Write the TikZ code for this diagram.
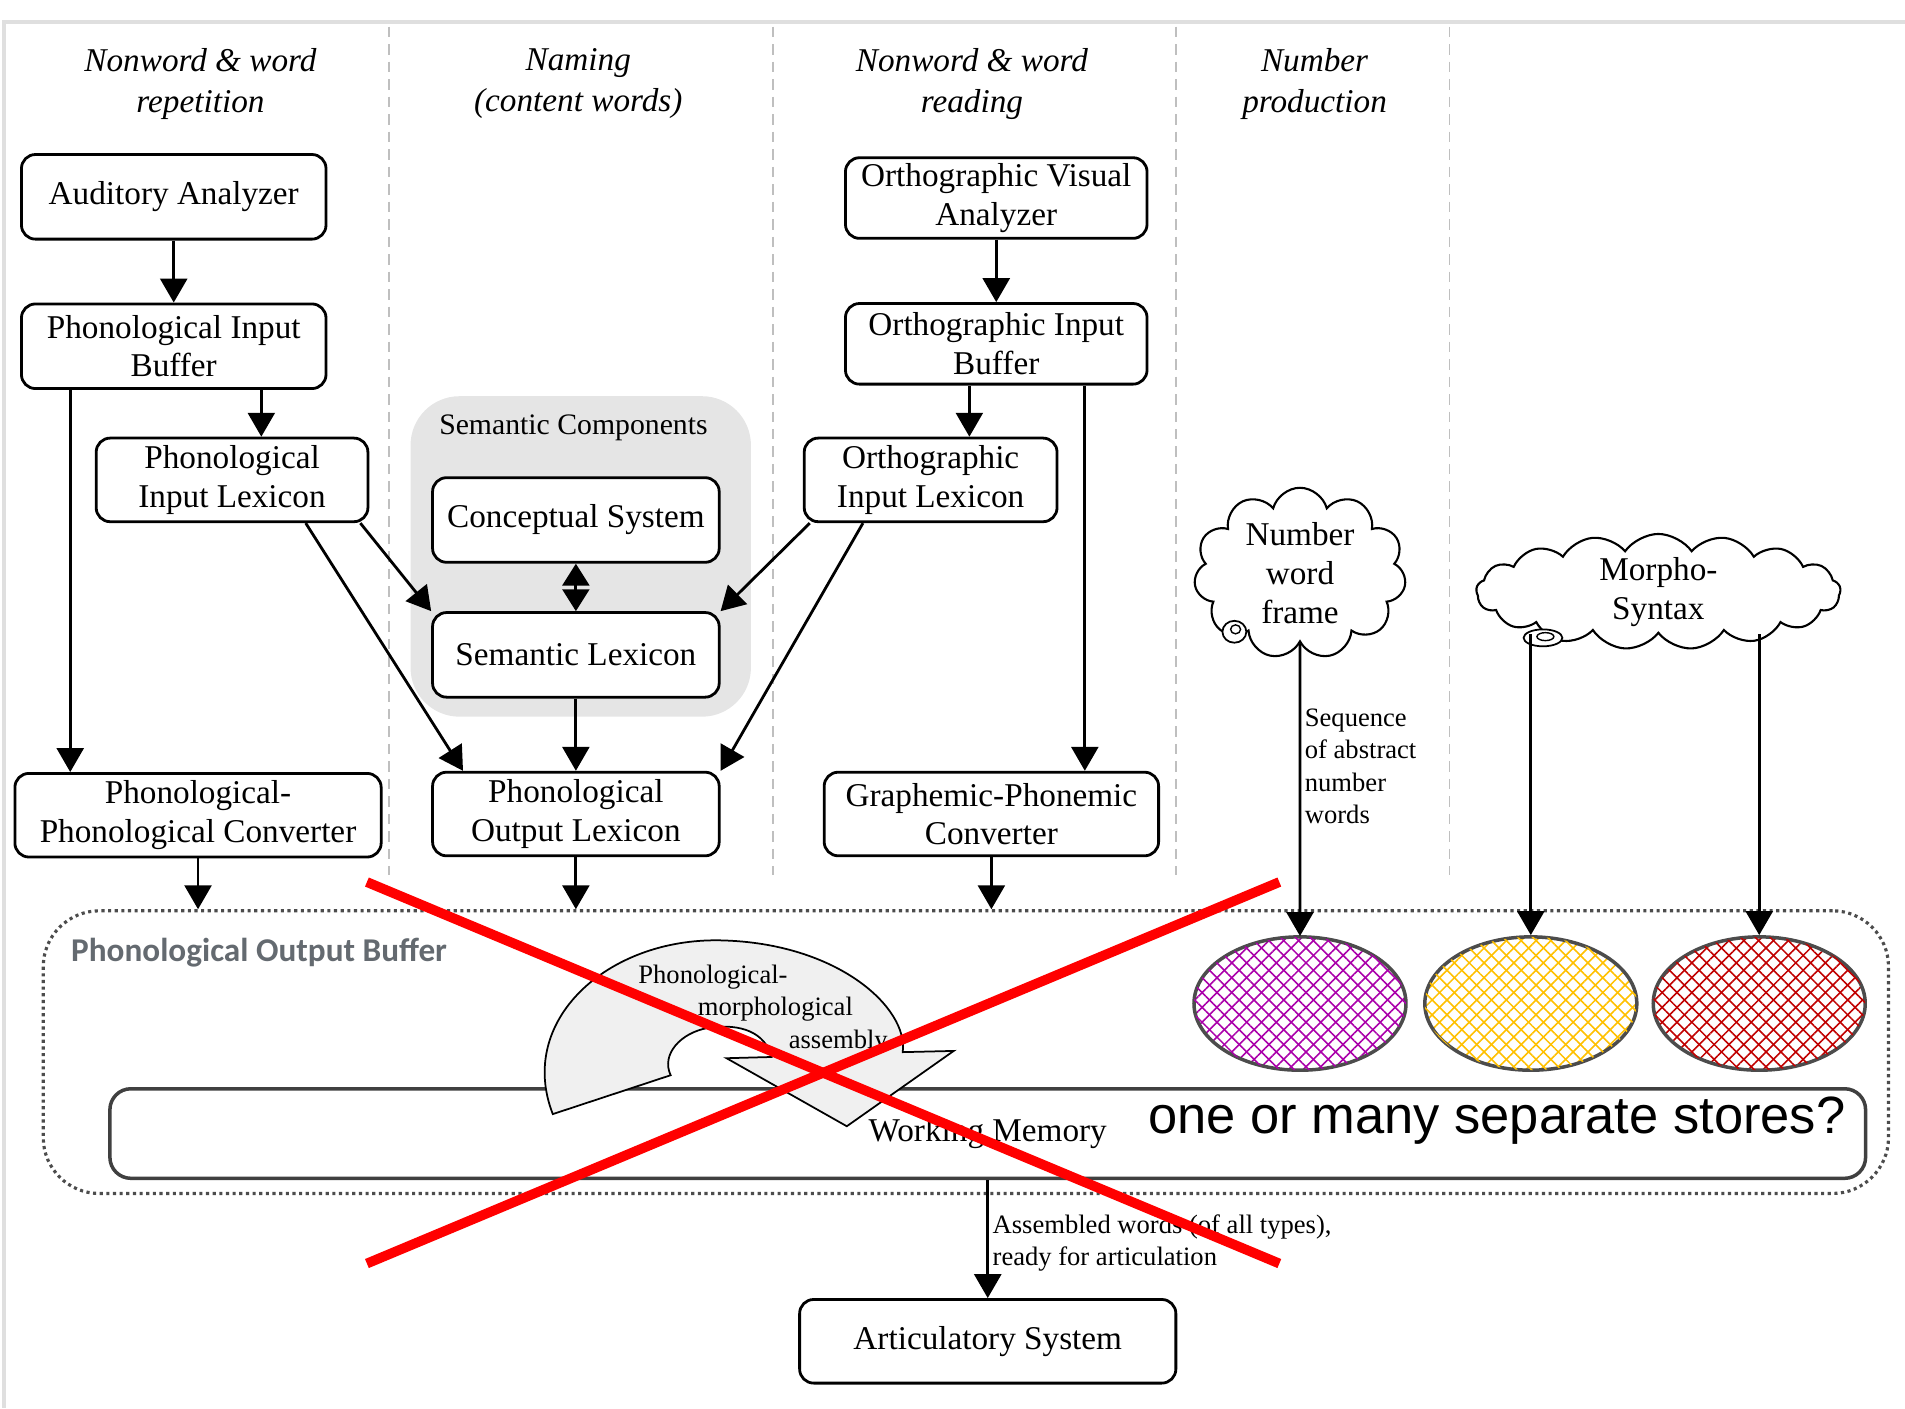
\documentclass[tikz,border=0pt]{standalone}
\usepackage{fontspec}
\setmainfont{Liberation Serif}
\newfontfamily\carlito{Carlito}
\newfontfamily\arialish{Liberation Sans}
\usepackage{tikz}
\usetikzlibrary{arrows.meta}
\usetikzlibrary{shapes.geometric}
\usetikzlibrary{shapes.symbols}
\usetikzlibrary{patterns.meta}
\usepackage{color}
\definecolor{Store-1}{RGB}{170,0,170}
\definecolor{Store-2}{RGB}{255,192,0}
\definecolor{Store-3}{RGB}{192,0,0}
\definecolor{Sem-Gray}{RGB}{229,229,229}
\definecolor{Pob-Gray}{RGB}{100,106,112}

\begin{document}
\begin{tikzpicture}[x=0.0122cm, y=-0.0122cm,
    box/.style={draw=black, line width=0.8pt, rounded corners=4pt, fill=white, align=center, inner sep=1pt, font=\fontsize{9.5}{11}\selectfont},
    title/.style={align=center, font=\fontsize{9.5}{11.8}\selectfont\itshape},
    arr/.style={-{Triangle[width=0.27cm, length=0.24cm]}, line width=0.8pt},
    darr/.style={{Triangle[width=0.27cm, length=0.22cm]}-{Triangle[width=0.27cm, length=0.22cm]}, line width=0.8pt},
    small/.style={align=left, inner sep=1pt, font=\fontsize{7.6}{9.2}\selectfont},
    store/.style={ellipse, draw=black!70, line width=1pt, minimum width=2.13cm, minimum height=1.34cm,
        pattern={Lines[angle=45, distance=3pt, line width=0.45pt]}, pattern color=#1,
        postaction={pattern={Lines[angle=-45, distance=3pt, line width=0.45pt]}, pattern color=#1}},
    thought/.style={cloud, draw=black, line width=0.6pt, cloud ignores aspect, inner sep=0pt, align=center, font=\fontsize{9.5}{11.2}\selectfont},
    sep/.style={gray!50, dash pattern=on 3pt off 2pt, line width=0.5pt}]

    \useasboundingbox (0, 0) rectangle (1568, 1159);
    \draw[gray!25, line width=1.2pt] (1568, 18) -- (3, 18) -- (3, 1159);

    \foreach \x in {320, 636, 968, 1193}
        \draw[sep] (\x, 22) -- (\x, 720);

    \node[title] (t_rep) at (165, 69)  {Nonword \& word\\repetition};
    \node[title] (t_nam) at (476, 69)  {Naming\\(content words)};
    \node[title] (t_rea) at (800, 69)  {Nonword \& word\\reading};
    \node[title] (t_num) at (1082, 69) {Number\\production};

    \node[fill=Sem-Gray, rounded corners=14pt, minimum width=3.42cm, minimum height=3.22cm] (sem_comp) at (478, 458) {};
    \node[font=\fontsize{8.5}{10}\selectfont] (sem_label) at (472, 352) {Semantic Components};

    \node[box, minimum width=3.06cm, minimum height=0.85cm] (aud_an)     at (143, 162) {Auditory Analyzer};
    \node[box, minimum width=3.06cm, minimum height=0.85cm] (ph_in_buf)  at (143, 285) {Phonological Input\\Buffer};
    \node[box, minimum width=2.73cm, minimum height=0.84cm] (ph_in_lex)  at (191, 395) {Phonological\\Input Lexicon};
    \node[box, minimum width=3.68cm, minimum height=0.84cm] (ph_ph_conv) at (163, 671) {Phonological-\\Phonological Converter};

    \node[box, minimum width=2.88cm, minimum height=0.85cm] (concept)    at (474, 428) {Conceptual System};
    \node[box, minimum width=2.88cm, minimum height=0.85cm] (sem_lex)    at (474, 539) {Semantic Lexicon};
    \node[box, minimum width=2.88cm, minimum height=0.84cm] (ph_out_lex) at (474, 670) {Phonological\\Output Lexicon};

    \node[box, minimum width=3.03cm, minimum height=0.81cm] (orth_vis)    at (820, 163) {Orthographic Visual\\Analyzer};
    \node[box, minimum width=3.03cm, minimum height=0.81cm] (orth_in_buf) at (820, 283) {Orthographic Input\\Buffer};
    \node[box, minimum width=2.54cm, minimum height=0.84cm] (orth_in_lex) at (766, 395) {Orthographic\\Input Lexicon};
    \node[box, minimum width=3.36cm, minimum height=0.84cm] (graph_conv)  at (816, 670) {Graphemic-Phonemic\\Converter};

    \node[box, minimum width=3.78cm, minimum height=0.84cm] (artic) at (813, 1104) {Articulatory System};

    % output buffer and working memory
    \node[draw=black!70, densely dotted, line width=0.9pt, rounded corners=16pt, minimum width=18.54cm, minimum height=2.84cm] (ph_out_buf) at (795, 866) {};
    \node[anchor=west, inner sep=0pt, text=Pob-Gray, font=\fontsize{9.5}{11}\carlito\bfseries] (pob_label) at (58, 784) {Phonological Output Buffer};
    \node[box, draw=black!75, line width=1pt, rounded corners=6pt, minimum width=17.64cm, minimum height=0.9cm] (work_mem) at (813, 933) {Working Memory};
    \node[font=\fontsize{15}{18}\arialish] (question) at (1232, 922) {one or many separate stores?};

    \draw[fill=gray!12, line width=0.5pt] (455, 917) .. controls (425, 840) and (500, 772) .. (593, 774)
        .. controls (690, 776) and (748, 830) .. (743, 866) -- (785, 865) -- (697, 927) -- (598, 871) -- (635, 870)
        .. controls (630, 850) and (610, 842) .. (583, 846) .. controls (560, 850) and (544, 868) .. (552, 885) -- cycle;
    \node[small, anchor=west, font=\fontsize{7.6}{9.3}\selectfont] (assembly) at (522, 831) {Phonological-\\\hspace*{17pt}morphological\\\hspace*{43pt}assembly};

    % separate stores
    \node[store=Store-1] (store_1) at (1070, 826) {};
    \node[store=Store-2] (store_2) at (1260, 826) {};
    \node[store=Store-3] (store_3) at (1448, 826) {};

    \node[thought, cloud puffs=11, minimum width=2.13cm, minimum height=1.5cm] (num_frame) at (1070, 472) {Number\\word\\frame};
    \node[thought, cloud puffs=17, cloud puff arc=110, minimum width=3.66cm, minimum height=1.16cm] (morpho) at (1365, 487) {Morpho-\\Syntax};
    \node[ellipse, draw, line width=0.5pt, fill=white, minimum width=0.24cm, minimum height=0.22cm, inner sep=0pt] (num_swirl) at (1016, 520) {};
    \node[ellipse, draw, line width=0.4pt, minimum width=0.1cm, minimum height=0.09cm, inner sep=0pt] (num_swirl_in) at (1017, 518) {};
    \node[ellipse, draw, line width=0.5pt, fill=white, minimum width=0.39cm, minimum height=0.17cm, inner sep=0pt] (mor_swirl) at (1270, 525) {};
    \node[ellipse, draw, line width=0.4pt, minimum width=0.17cm, minimum height=0.08cm, inner sep=0pt] (mor_swirl_in) at (1272, 524) {};

    % connectors
    \draw[arr] (aud_an) -- (ph_in_buf);
    \draw[arr] ([xshift=0.88cm]ph_in_buf.south) -- ([xshift=0.88cm]ph_in_buf.south |- ph_in_lex.north);
    \draw[arr] ([xshift=-1.04cm]ph_in_buf.south) -- ([xshift=-1.04cm]ph_in_buf.south |- ph_ph_conv.north);
    \draw[arr] ([xshift=-0.09cm]ph_in_lex.south east) -- (sem_lex.north west);
    \draw[arr] ([xshift=0.74cm]ph_in_lex.south) -- ([xshift=0.32cm]ph_out_lex.north west);

    \draw[darr] (concept) -- (sem_lex);
    \draw[arr] (sem_lex) -- (ph_out_lex);

    \draw[arr] (orth_vis) -- (orth_in_buf);
    \draw[arr] ([xshift=-0.27cm]orth_in_buf.south) -- ([xshift=-0.27cm]orth_in_buf.south |- orth_in_lex.north);
    \draw[arr] ([xshift=0.89cm]orth_in_buf.south) -- ([xshift=0.89cm]orth_in_buf.south |- graph_conv.north);
    \draw[arr] ([xshift=0.07cm]orth_in_lex.south west) -- (sem_lex.north east);
    \draw[arr] ([xshift=-0.68cm]orth_in_lex.south) -- (ph_out_lex.north east);

    \draw[arr] (ph_ph_conv.south) -- (ph_ph_conv.south |- ph_out_buf.north);
    \draw[arr] (ph_out_lex.south) -- (ph_out_lex.south |- ph_out_buf.north);
    \draw[arr] (graph_conv.south) -- (graph_conv.south |- ph_out_buf.north);

    \draw[arr] (num_frame.south) -- (store_1) node[small, pos=0.42, right] {Sequence\\of abstract\\number\\words};
    \draw[arr] (store_2.north |- morpho.south) -- (store_2);
    \draw[arr] (store_3.north |- morpho.south) -- (store_3);

    \draw[arr] (artic.north |- work_mem.south) -- (artic) node[small, pos=0.53, right] {Assembled words (of all types),\\ready for articulation};

    % crossed out
    \draw[red, line width=2.8pt] (302, 726) -- (1053, 1040);
    \draw[red, line width=2.8pt] (302, 1040) -- (1053, 726);
\end{tikzpicture}
\end{document}
